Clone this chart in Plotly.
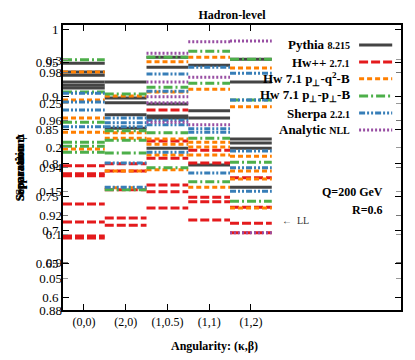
import plotly.graph_objects as go

# angularity bins (kappa, beta)
bins = ["(0,0)", "(2,0)", "(1,0.5)", "(1,1)", "(1,2)"]

# separation levels read per bin, one list per bin (several panels overlaid)
pythia = [
    [0.949, 0.936, 0.931, 0.921, 0.916, 0.912],
    [0.921, 0.897, 0.890, 0.872, 0.852],
    [0.958, 0.943, 0.888, 0.870, 0.867, 0.822],
    [0.946, 0.878, 0.867, 0.797],
    [0.955, 0.921, 0.836, 0.830, 0.822, 0.764],
]
herwigpp = [
    [0.796, 0.784, 0.781, 0.739, 0.712, 0.691, 0.688],
    [0.799, 0.788, 0.760, 0.718, 0.707],
    [0.879, 0.833, 0.807, 0.767, 0.757, 0.733],
    [0.819, 0.800, 0.749, 0.742, 0.715],
    [0.778, 0.734, 0.710, 0.696],
]
herwig_q2 = [
    [0.936, 0.894, 0.867, 0.846, 0.821],
    [0.900, 0.845, 0.837, 0.788, 0.763],
    [0.951, 0.906, 0.836, 0.828, 0.812, 0.790],
    [0.958, 0.910, 0.831, 0.824, 0.812, 0.764],
    [0.942, 0.884, 0.810, 0.788, 0.776, 0.733],
]
herwig_pt = [
    [0.954, 0.906, 0.861, 0.831, 0.825, 0.816],
    [0.903, 0.848, 0.834, 0.815, 0.760],
    [0.958, 0.913, 0.845, 0.793],
    [0.967, 0.919, 0.837, 0.772],
    [0.955, 0.894, 0.801, 0.743],
]
sherpa = [
    [0.904, 0.891, 0.879, 0.854],
    [0.867, 0.860, 0.854, 0.800, 0.764],
    [0.933, 0.907, 0.864, 0.857, 0.816],
    [0.943, 0.851, 0.846, 0.785],
    [0.934, 0.894, 0.818, 0.793, 0.758],
]
analytic = [
    [],
    [],
    [0.964, 0.921, 0.899, 0.890, 0.861],
    [0.981, 0.928, 0.857],
    [0.982, 0.696],
]

series = [
    ("<b>Pythia</b> <span style='font-size:10px'><b>8.215</b></span>", pythia, "#444444", "solid"),
    ("<b>Hw++</b> <span style='font-size:10px'><b>2.7.1</b></span>", herwigpp, "#e41a1c", "9px,3px"),
    ("<b>Hw 7.1 p<sub>⊥</sub>-q<sup>2</sup>-B</b>", herwig_q2, "#ff7f00", "5px,3px"),
    ("<b>Hw 7.1 p<sub>⊥</sub>-p<sub>⊥</sub>-B</b>", herwig_pt, "#4daf4a", "9px,3px,2px,3px"),
    ("<b>Sherpa</b> <span style='font-size:10px'><b>2.2.1</b></span>", sherpa, "#377eb8", "6px,2px,2px,2px,2px,2px"),
    ("<b>Analytic</b> <span style='font-size:10px'><b>NLL</b></span>", analytic, "#984ea3", "2px,2px"),
]

serif = "Liberation Serif"

fig = go.Figure()

for name, levels, color, dash in series:
    xs, ys = [], []
    for i, vals in enumerate(levels):
        for v in vals:
            xs += [i - 0.5, i + 0.5, None]
            ys += [v, v, None]
    fig.add_trace(go.Scatter(x=xs, y=ys, mode="lines", showlegend=False,
                             line=dict(color=color, width=3, dash=dash), hoverinfo="skip"))

# hand made legend: text on the left, line sample on the right
legend_y = [0.930, 0.870, 0.811, 0.751, 0.691, 0.632]
for (name, levels, color, dash), ly in zip(series, legend_y):
    fig.add_annotation(x=0.856, y=ly, xref="paper", yref="paper", text=name, showarrow=False,
                       xanchor="right", yanchor="middle", font=dict(family=serif, size=13, color="black"))
    fig.add_shape(type="line", xref="paper", yref="paper", x0=0.876, x1=0.974, y0=ly, y1=ly,
                  line=dict(color=color, width=3, dash=dash))

fig.add_annotation(x=0.953, y=0.414, xref="paper", yref="paper", text="<b>Q=200 GeV</b>",
                   showarrow=False, xanchor="right", font=dict(family=serif, size=12, color="black"))
fig.add_annotation(x=0.953, y=0.351, xref="paper", yref="paper", text="<b>R=0.6</b>",
                   showarrow=False, xanchor="right", font=dict(family=serif, size=12, color="black"))
fig.add_annotation(x=0.688, y=0.288, xref="paper", yref="paper", text="←  LL",
                   showarrow=False, xanchor="center", font=dict(family=serif, size=10, color="#333333"))

# overlapping y titles of the stacked panels
for t in ["<b>Separation</b>", "<b>Separation Δ</b>", "<b>Separation ψ</b>"]:
    fig.add_annotation(x=-0.13, y=0.50, xref="paper", yref="paper", text=t, textangle=-90,
                       showarrow=False, xanchor="center", font=dict(family=serif, size=12, color="black"))

fig.add_annotation(x=0.447, y=-0.126, xref="paper", yref="paper", text="<b>Angularity: (κ,β)</b>",
                   showarrow=False, yanchor="middle", font=dict(family=serif, size=12, color="black"))

# the page adds an 8px body margin, so the figure is 8px smaller and shifted
fig.update_layout(
    width=407, height=352,
    margin=dict(l=55, r=12, t=17, b=50),
    plot_bgcolor="white", paper_bgcolor="white",
    title=dict(text="<b>Hadron-level</b>", x=0.5, xref="paper", xanchor="center",
               y=0.98, yanchor="middle",
               font=dict(family=serif, size=12, color="black")),
    font=dict(family=serif, size=13, color="black"),
    xaxis=dict(range=[-0.5, 7.595], tickvals=list(range(len(bins))), ticktext=bins,
               ticks="inside", ticklen=6, tickcolor="black", showgrid=False, zeroline=False,
               showline=True, linewidth=2, linecolor="black", mirror="ticks",
               tickfont=dict(family=serif, size=12)),
    yaxis=dict(range=[0.5806, 1.006], tickvals=[0.6, 0.65, 0.7, 0.75, 0.8, 0.85, 0.9, 0.95, 1.0],
               ticktext=["0.6", "0.65", "0.7", "0.75", "0.8", "0.85", "0.9", "0.95", "1"],
               ticks="inside", ticklen=6, tickcolor="black", showgrid=False, zeroline=False,
               showline=True, linewidth=2, linecolor="black", mirror="ticks",
               tickfont=dict(family=serif, size=13)),
    yaxis2=dict(range=[0.88, 1.0], overlaying="y", side="left", anchor="x",
                tickvals=[0.88, 0.9, 0.92, 0.94, 0.96, 0.98],
                ticktext=["0.88", "0.9", "0.92", "0.94", "0.96", "0.98"],
                ticks="inside", ticklen=5, tickcolor="#777777", showgrid=False, zeroline=False,
                showline=False, mirror="ticks", tickfont=dict(family=serif, size=13)),
    yaxis3=dict(range=[0.014, 0.34], overlaying="y", side="left", anchor="x",
                tickvals=[0.05, 0.1, 0.15, 0.2, 0.25, 0.3],
                ticktext=["0.05", "0.1", "0.15", "0.2", "0.25", "0.3"],
                ticks="inside", ticklen=5, tickcolor="#999999", showgrid=False, zeroline=False,
                showline=False, mirror="ticks", tickfont=dict(family=serif, size=13)),
)

# dummy traces so the overlaid axes are drawn
fig.add_trace(go.Scatter(x=[None], y=[None], yaxis="y2", showlegend=False))
fig.add_trace(go.Scatter(x=[None], y=[None], yaxis="y3", showlegend=False))

fig.write_html("out.html")
